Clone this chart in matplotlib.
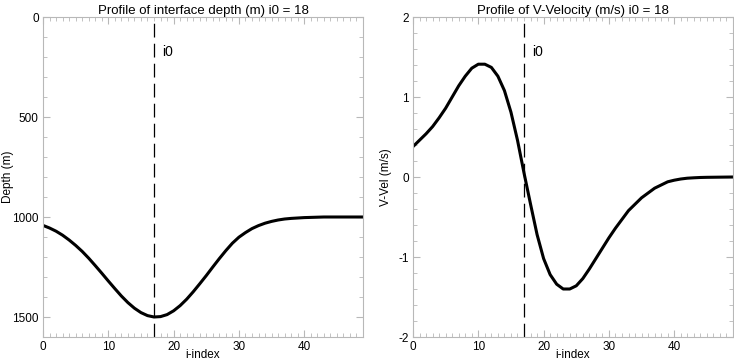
import numpy as np
import matplotlib
matplotlib.use("Agg")
import matplotlib.pyplot as plt
from matplotlib.ticker import MultipleLocator

plt.rcParams['font.family'] = ['Liberation Sans', 'DejaVu Sans']
plt.rcParams['axes.unicode_minus'] = False

# i-index along the section
i_index = np.arange(50)
i0_index = 17          # zero-based position of i0 = 18

# interface depth (m)
depth = [1042, 1055, 1071, 1091, 1115, 1142, 1172, 1206, 1243, 1281,
         1320, 1358, 1395, 1428, 1456, 1478, 1493, 1500, 1498, 1488,
         1469, 1443, 1411, 1374, 1334, 1293, 1250, 1208, 1168, 1131,
         1101, 1078, 1058, 1043, 1031, 1022, 1015, 1010, 1007, 1005,
         1003, 1002, 1001, 1000, 1000, 1000, 1000, 1000, 1000, 1000]

# V-velocity (m/s)
vvel = [0.38, 0.46, 0.54, 0.63, 0.74, 0.86, 1.00, 1.14, 1.26, 1.36,
        1.41, 1.41, 1.37, 1.26, 1.08, 0.81, 0.46, 0.05, -0.34, -0.72,
        -1.02, -1.22, -1.34, -1.40, -1.40, -1.36, -1.27, -1.15, -1.02, -0.89,
        -0.76, -0.64, -0.53, -0.42, -0.34, -0.26, -0.20, -0.14, -0.10, -0.06,
        -0.04, -0.025, -0.015, -0.01, -0.006, -0.004, -0.003, -0.002, -0.001, 0.0]

titles = ["Profile of interface depth (m) i0 = 18",
          "Profile of V-Velocity (m/s) i0 = 18"]
ylabels = ["Depth (m)", "V-Vel (m/s)"]

W, H = 734, 362
fig = plt.figure(figsize=(W / 100, H / 100), dpi=100)
ax1 = fig.add_axes([43 / W, (H - 337) / H, 320 / W, 320 / H])
ax2 = fig.add_axes([413 / W, (H - 337) / H, 320 / W, 320 / H])

spine_col = "#b8b8b8"


def style_axis(ax, title, ylabel, ylab_x):
    ax.set_xlim(0, 49)
    ax.xaxis.set_major_locator(MultipleLocator(10))
    ax.xaxis.set_minor_locator(MultipleLocator(1))
    for s in ax.spines.values():
        s.set_color(spine_col)
        s.set_linewidth(0.8)
    ax.tick_params(which="both", direction="in", top=True, right=True,
                   color=spine_col, labelsize=8.5, pad=3)
    ax.tick_params(which="major", length=5, width=0.8)
    ax.tick_params(which="minor", length=3, width=0.6)
    ax.set_title(title, fontsize=9.5, pad=2)
    ax.set_xlabel("i-index", fontsize=8.5)
    ax.xaxis.set_label_coords(0.5, -0.037)
    ax.set_ylabel(ylabel, fontsize=8.5)
    ax.yaxis.set_label_coords(ylab_x, 0.5)
    ax.yaxis.label.set_va("center")


# left: interface depth
ax1.plot(i_index, depth, color="black", lw=2.2)
ax1.set_ylim(1600, 0)
ax1.yaxis.set_major_locator(MultipleLocator(500))
ax1.yaxis.set_minor_locator(MultipleLocator(100))
ax1.axvline(i0_index, color="black", lw=0.9, dashes=(11, 5))
ax1.text(18.2, 175, "i0", fontsize=10, va="center")
style_axis(ax1, titles[0], ylabels[0], -0.108)

# right: V-velocity
ax2.plot(i_index, vvel, color="black", lw=2.2)
ax2.set_ylim(-2, 2)
ax2.yaxis.set_major_locator(MultipleLocator(1))
ax2.yaxis.set_minor_locator(MultipleLocator(0.2))
ax2.axvline(i0_index, color="black", lw=0.9, dashes=(11, 5))
ax2.text(18.2, 1.56, "i0", fontsize=10, va="center")
style_axis(ax2, titles[1], ylabels[1], -0.085)

fig.savefig("out.png", dpi=100)
